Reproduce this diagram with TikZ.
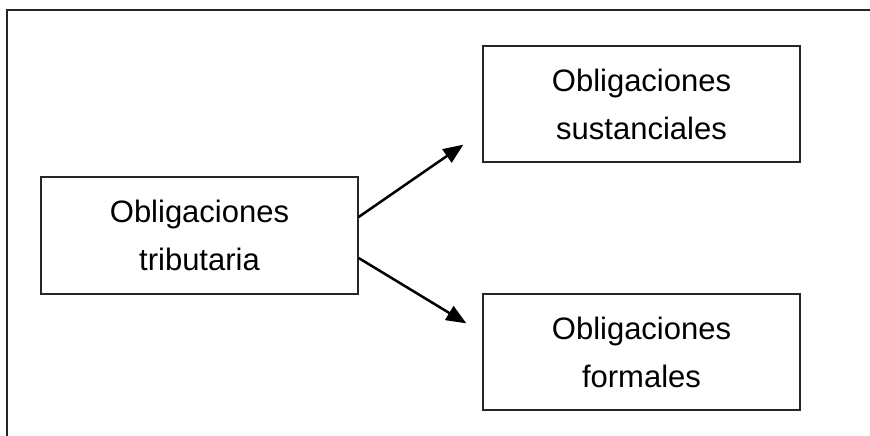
\documentclass[tikz,border=0pt]{standalone}
\usepackage{fontspec}
\setmainfont{Liberation Sans}
\usetikzlibrary{arrows.meta,calc}
\begin{document}
\begin{tikzpicture}[x=1pt,y=-1pt,
  box/.style={draw=black!85,line width=1.3pt,minimum width=317pt,minimum height=116pt,inner sep=0pt,
    align=center,font=\fontsize{31}{48}\selectfont},
  conn/.style={line width=2.5pt,-{Triangle[length=20pt,width=16pt]}},
  frame/.style={line width=1.6pt,draw=black!85}]
\useasboundingbox (0,0) rectangle (870,436);
\coordinate (f1) at (7,436);
\coordinate (f2) at (7,10);
\coordinate (f3) at (870,10);
\draw[frame] (f1) -- (f2) -- (f3);
\node[box,minimum height=117pt] (L) at (199.5,235.5) {Obligaciones\\tributaria};
\node[box] (T) at (641.5,104) {Obligaciones\\sustanciales};
\node[box] (B) at (641.5,352) {Obligaciones\\formales};
\coordinate (tt) at ($(T.south west)+(-19,-18)$);
\coordinate (bt) at ($(B.north west)+(-16,30)$);
\draw[conn] ($(L.east)+(0,-18.5)$) -- (tt);
\draw[conn] ($(L.east)+(0,22.5)$) -- (bt);
\end{tikzpicture}
\end{document}
